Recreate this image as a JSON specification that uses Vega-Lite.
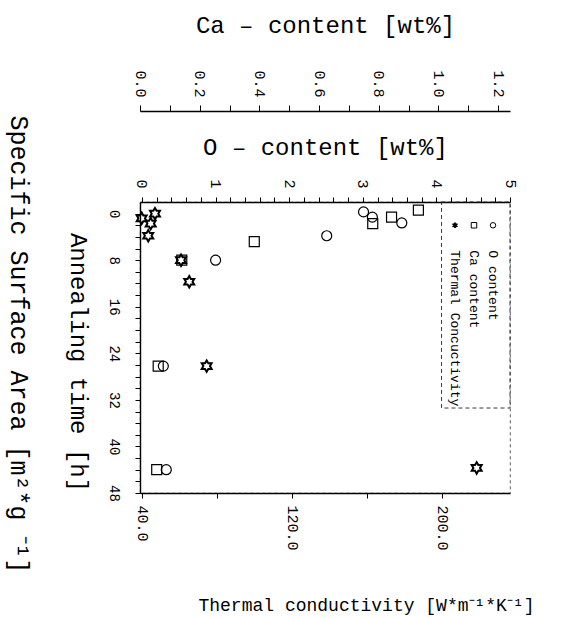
{
  "$schema": "https://vega.github.io/schema/vega-lite/v6.json",
  "width": 370,
  "height": 291,
  "autosize": {"type": "none"},
  "padding": {"left": 140, "top": 202, "right": 53, "bottom": 125},
  "background": "white",
  "datasets": {
    "measurements": [
      {"series": "O content", "time": -0.3, "value": 3.01},
      {"series": "O content", "time": 0.6, "value": 3.13},
      {"series": "O content", "time": 1.6, "value": 3.53},
      {"series": "O content", "time": 3.8, "value": 2.51},
      {"series": "O content", "time": 8.0, "value": 1.0},
      {"series": "O content", "time": 26.2, "value": 0.29},
      {"series": "O content", "time": 44.0, "value": 0.33},
      {"series": "Ca content", "time": -0.6, "value": 0.933},
      {"series": "Ca content", "time": 0.6, "value": 0.843},
      {"series": "Ca content", "time": 1.7, "value": 0.78},
      {"series": "Ca content", "time": 4.8, "value": 0.383},
      {"series": "Ca content", "time": 8.0, "value": 0.14},
      {"series": "Ca content", "time": 26.2, "value": 0.061},
      {"series": "Ca content", "time": 44.0, "value": 0.056},
      {"series": "Thermal Concuctivity", "time": 0.0, "value": 46.7},
      {"series": "Thermal Concuctivity", "time": 0.8, "value": 39.6},
      {"series": "Thermal Concuctivity", "time": 1.7, "value": 44.4},
      {"series": "Thermal Concuctivity", "time": 3.8, "value": 43.1},
      {"series": "Thermal Concuctivity", "time": 8.0, "value": 60.6},
      {"series": "Thermal Concuctivity", "time": 11.7, "value": 65.0},
      {"series": "Thermal Concuctivity", "time": 26.2, "value": 74.3},
      {"series": "Thermal Concuctivity", "time": 43.7, "value": 218.5}
    ],
    "legend": [
      {"series": "Thermal Concuctivity"},
      {"series": "Ca content"},
      {"series": "O content"}
    ],
    "legendbox": [
      {"box": "legend"}
    ]
  },
  "layer": [
    {
      "data": {"name": "measurements"},
      "transform": [{"filter": "datum.series === 'O content'"}],
      "mark": {"type": "point", "filled": false, "color": "black", "opacity": 1, "strokeWidth": 1.2, "size": 100},
      "encoding": {
        "x": {
          "field": "value", "type": "quantitative",
          "scale": {"domain": [-0.027, 5], "nice": false, "zero": false},
          "axis": {
            "orient": "top",
            "values": [0, 0.2, 0.4, 0.6, 0.8, 1, 1.2, 1.4, 1.6, 1.8, 2, 2.2, 2.4, 2.6, 2.8, 3, 3.2, 3.4, 3.6, 3.8, 4, 4.2, 4.4, 4.6, 4.8, 5],
            "labelExpr": "abs(datum.value - round(datum.value)) < 0.001 ? format(datum.value, 'd') : ''",
            "labelAngle": 90, "labelAlign": "right", "labelBaseline": "middle",
            "labelFontSize": 15, "labelPadding": 9, "tickSize": 5,
            "title": "O – content [wt%]",
            "titleFontSize": 24, "titleX": 185, "titleY": -55,
            "titleAlign": "center", "titleBaseline": "middle", "titleAngle": 0
          }
        },
        "y": {
          "field": "time", "type": "quantitative",
          "scale": {"domain": [-2, 48], "nice": false, "zero": false, "reverse": true},
          "axis": {
            "orient": "left",
            "values": [0, 2, 4, 6, 8, 10, 12, 14, 16, 18, 20, 22, 24, 26, 28, 30, 32, 34, 36, 38, 40, 42, 44, 46, 48],
            "labelExpr": "datum.value % 8 === 0 ? datum.label : ''",
            "labelAngle": 90, "labelAlign": "center", "labelBaseline": "top",
            "labelFontSize": 14, "labelPadding": 15, "tickSize": 5,
            "title": "Annealing time [h]",
            "titleFontSize": 24, "titleAngle": 90, "titleX": -63, "titleY": 160,
            "titleAlign": "center", "titleBaseline": "middle"
          }
        },
        "shape": {
          "field": "series", "type": "nominal",
          "scale": {
            "domain": ["Thermal Concuctivity", "Ca content", "O content"],
            "range": ["M0,-1L0.289,-0.5L0.866,-0.5L0.577,0L0.866,0.5L0.289,0.5L0,1L-0.289,0.5L-0.866,0.5L-0.577,0L-0.866,-0.5L-0.289,-0.5Z", "square", "circle"]
          },
          "legend": null
        }
      }
    },
    {
      "data": {"name": "measurements"},
      "transform": [{"filter": "datum.series === 'Ca content'"}],
      "mark": {"type": "point", "filled": false, "color": "black", "opacity": 1, "strokeWidth": 1.2, "size": 100},
      "encoding": {
        "x": {
          "field": "value", "type": "quantitative",
          "scale": {"domain": [0, 1.24], "nice": false, "zero": false},
          "axis": {
            "orient": "top", "offset": 91,
            "values": [0, 0.1, 0.2, 0.3, 0.4, 0.5, 0.6, 0.7, 0.8, 0.9, 1.0, 1.1, 1.2],
            "labelExpr": "round(datum.value * 10) % 2 === 0 ? format(datum.value, '.1f') : ''",
            "labelAngle": 90, "labelAlign": "right", "labelBaseline": "middle",
            "labelFontSize": 15, "labelPadding": 8, "tickSize": 6,
            "title": "Ca – content [wt%]",
            "titleFontSize": 24, "titleX": 185, "titleY": -86,
            "titleAlign": "center", "titleBaseline": "middle", "titleAngle": 0
          }
        },
        "y": {
          "field": "time", "type": "quantitative",
          "scale": {"domain": [-2, 48], "nice": false, "zero": false, "reverse": true},
          "axis": {
            "orient": "left",
            "labels": false, "ticks": false, "domain": false,
            "title": "Specific Surface Area [m²*g ⁻¹]",
            "titleFontSize": 25, "titleAngle": 90, "titleX": -122, "titleY": 142,
            "titleAlign": "center", "titleBaseline": "middle"
          }
        },
        "shape": {
          "field": "series", "type": "nominal",
          "scale": {
            "domain": ["Thermal Concuctivity", "Ca content", "O content"],
            "range": ["M0,-1L0.289,-0.5L0.866,-0.5L0.577,0L0.866,0.5L0.289,0.5L0,1L-0.289,0.5L-0.866,0.5L-0.577,0L-0.866,-0.5L-0.289,-0.5Z", "square", "circle"]
          },
          "legend": null
        }
      }
    },
    {
      "data": {"name": "measurements"},
      "transform": [{"filter": "datum.series === 'Thermal Concuctivity'"}],
      "mark": {"type": "point", "filled": false, "color": "black", "opacity": 1, "strokeWidth": 2, "size": 130},
      "encoding": {
        "x": {
          "field": "value", "type": "quantitative",
          "scale": {"domain": [38.7, 236.3], "nice": false, "zero": false},
          "axis": {
            "orient": "bottom",
            "values": [40, 80, 120, 160, 200],
            "labelExpr": "datum.value % 80 === 40 ? format(datum.value, '.1f') : ''",
            "labelAngle": 90, "labelAlign": "left", "labelBaseline": "middle",
            "labelFontSize": 15, "labelPadding": 7, "tickSize": 5,
            "title": "Thermal conductivity [W*m⁻¹*K⁻¹]",
            "titleFontSize": 18, "titleX": 226, "titleY": 112,
            "titleAlign": "center", "titleBaseline": "middle", "titleAngle": 0
          }
        },
        "y": {
          "field": "time", "type": "quantitative",
          "scale": {"domain": [-2, 48], "nice": false, "zero": false, "reverse": true},
          "axis": null
        },
        "shape": {
          "field": "series", "type": "nominal",
          "scale": {
            "domain": ["Thermal Concuctivity", "Ca content", "O content"],
            "range": ["M0,-1L0.289,-0.5L0.866,-0.5L0.577,0L0.866,0.5L0.289,0.5L0,1L-0.289,0.5L-0.866,0.5L-0.577,0L-0.866,-0.5L-0.289,-0.5Z", "square", "circle"]
          },
          "legend": null
        }
      }
    },
    {
      "data": {"name": "legendbox"},
      "mark": {"type": "rect", "fill": null, "fillOpacity": 0, "stroke": "#222", "strokeWidth": 0.9, "strokeDash": [4, 3]},
      "encoding": {
        "x": {"datum": 4.07, "type": "quantitative", "scale": {"domain": [-0.027, 5], "nice": false, "zero": false}, "axis": null},
        "x2": {"datum": 5},
        "y": {"datum": -2, "type": "quantitative", "scale": {"domain": [-2, 48], "nice": false, "zero": false, "reverse": true}, "axis": null},
        "y2": {"datum": 33.4}
      }
    },
    {
      "data": {"name": "legend"},
      "mark": {"type": "point", "stroke": "black", "strokeWidth": 1, "opacity": 1, "size": 30},
      "encoding": {
        "x": {"field": "series", "type": "nominal", "scale": {"type": "point", "domain": ["Thermal Concuctivity", "Ca content", "O content"], "range": [315, 353], "padding": 0}, "axis": null},
        "y": {"datum": 2, "type": "quantitative", "scale": {"domain": [-2, 48], "nice": false, "zero": false, "reverse": true}, "axis": null},
        "shape": {
          "field": "series", "type": "nominal",
          "scale": {
            "domain": ["Thermal Concuctivity", "Ca content", "O content"],
            "range": ["M0,-1L0.289,-0.5L0.866,-0.5L0.577,0L0.866,0.5L0.289,0.5L0,1L-0.289,0.5L-0.866,0.5L-0.577,0L-0.866,-0.5L-0.289,-0.5Z", "square", "circle"]
          },
          "legend": null
        },
        "fill": {"condition": {"test": "datum.series === 'Thermal Concuctivity'", "value": "black"}, "value": "transparent"}
      }
    },
    {
      "data": {"name": "legend"},
      "mark": {"type": "text", "angle": 90, "align": "left", "baseline": "middle", "dx": 25, "fontSize": 13, "font": "Liberation Mono", "color": "black"},
      "encoding": {
        "x": {"field": "series", "type": "nominal", "scale": {"type": "point", "domain": ["Thermal Concuctivity", "Ca content", "O content"], "range": [315, 353], "padding": 0}, "axis": null},
        "y": {"datum": 2, "type": "quantitative", "scale": {"domain": [-2, 48], "nice": false, "zero": false, "reverse": true}, "axis": null},
        "text": {"field": "series"}
      }
    }
  ],
  "resolve": {"scale": {"x": "independent", "y": "independent"}, "axis": {"x": "independent", "y": "independent"}},
  "config": {
    "font": "Liberation Mono",
    "view": {"stroke": "#333", "strokeDash": [3, 3], "strokeWidth": 0.8},
    "axis": {
      "domainColor": "black", "domainWidth": 1.4, "tickColor": "black", "tickWidth": 1,
      "labelColor": "black", "titleColor": "black", "grid": false,
      "titleFontWeight": "normal", "labelFont": "Liberation Mono", "titleFont": "Liberation Mono",
      "labelOverlap": false, "labelFlush": false, "labelBound": false
    }
  }
}
